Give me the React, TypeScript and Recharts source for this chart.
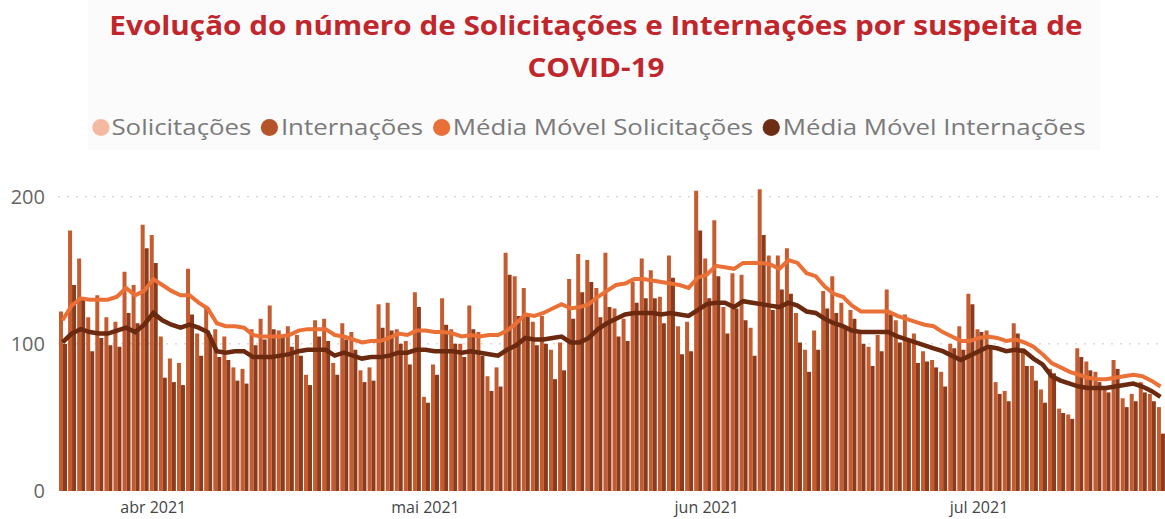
import { ComposedChart, Bar, Line, XAxis, YAxis, CartesianGrid } from 'recharts';

// daily values, 22 mar 2021 .. 21 jul 2021
const solicitacoes = [
  122, 177, 158, 118, 133, 118, 115, 149, 140, 181,
  174, 105, 90, 87, 151, 107, 125, 110, 105, 84,
  83, 110, 117, 126, 109, 112, 106, 79, 116, 117,
  87, 114, 108, 82, 84, 127, 128, 110, 102, 135,
  64, 86, 131, 110, 100, 126, 108, 78, 84, 162,
  146, 138, 115, 119, 96, 101, 144, 161, 157, 138,
  162, 124, 117, 142, 158, 150, 132, 160, 112, 115,
  204, 158, 184, 125, 148, 147, 111, 205, 160, 160,
  165, 121, 96, 109, 136, 146, 128, 123, 107, 98,
  106, 137, 116, 120, 107, 95, 89, 81, 100, 112,
  134, 110, 109, 74, 68, 114, 97, 85, 69, 83,
  56, 52, 97, 88, 81, 70, 89, 63, 66, 74,
  66, 57,
];

const internacoes = [
  100, 140, 130, 95, 104, 99, 98, 121, 114, 165,
  155, 77, 74, 72, 120, 92, 106, 91, 89, 75,
  73, 99, 103, 110, 105, 98, 92, 72, 105, 102,
  79, 103, 96, 74, 75, 111, 109, 100, 86, 125,
  60, 79, 113, 100, 91, 110, 92, 68, 71, 147,
  119, 119, 99, 100, 76, 82, 117, 135, 142, 118,
  125, 105, 102, 128, 131, 131, 114, 145, 93, 95,
  177, 131, 146, 107, 124, 116, 92, 174, 123, 137,
  134, 101, 81, 96, 124, 121, 112, 117, 100, 85,
  95, 120, 101, 102, 87, 88, 84, 71, 97, 96,
  127, 108, 99, 66, 61, 107, 85, 75, 60, 80,
  53, 49, 91, 82, 74, 67, 83, 57, 61, 67,
  61, 39,
];

const mediaSolicitacoes = [
  116, 126, 131, 130, 130, 130, 132, 138, 133, 136,
  144, 140, 136, 133, 133, 128, 124, 114, 112, 112,
  111, 106, 105, 105, 105, 106, 109, 110, 110, 110,
  106, 105, 103, 101, 102, 102, 104, 107, 106, 109,
  109, 108, 108, 107, 105, 106, 105, 106, 106, 109,
  114, 120, 119, 121, 124, 127, 124, 125, 127, 132,
  136, 140, 141, 144, 144, 143, 142, 141, 140, 138,
  145, 147, 153, 152, 151, 155, 155, 155, 154, 151,
  157, 155, 148, 146, 139, 134, 132, 126, 122, 122,
  122, 122, 119, 117, 115, 113, 112, 108, 105, 102,
  102, 104, 105, 104, 102, 103, 101, 98, 93, 87,
  84, 81, 79, 77, 76, 76, 77, 78, 79, 78,
  75, 71,
];

const mediaInternacoes = [
  101, 107, 110, 108, 107, 107, 109, 111, 108, 113,
  121, 116, 113, 111, 113, 111, 108, 95, 94, 95,
  95, 91, 91, 91, 92, 93, 95, 96, 96, 96,
  92, 94, 92, 90, 91, 91, 92, 94, 94, 96,
  96, 95, 95, 95, 94, 95, 94, 93, 92, 96,
  99, 104, 103, 103, 104, 105, 101, 101, 104, 110,
  114, 117, 120, 121, 121, 121, 120, 121, 120, 119,
  123, 127, 128, 128, 125, 129, 128, 127, 126, 125,
  128, 126, 122, 121, 117, 114, 112, 109, 108, 108,
  108, 108, 105, 103, 101, 99, 97, 95, 92, 89,
  92, 95, 98, 97, 95, 96, 95, 90, 86, 78,
  75, 73, 71, 70, 70, 70, 71, 72, 73, 71,
  68, 64,
];

const monthTicks = [
  { date: '2021-04-01', label: 'abr 2021' },
  { date: '2021-05-01', label: 'mai 2021' },
  { date: '2021-06-01', label: 'jun 2021' },
  { date: '2021-07-01', label: 'jul 2021' },
];

const yTicks = [0, 100, 200];
const gridValues = [100, 200];

const legendItems = [
  { name: 'Solicitações', color: '#f4b9a0' },
  { name: 'Internações', color: '#b5542b' },
  { name: 'Média Móvel Solicitações', color: '#e86f37' },
  { name: 'Média Móvel Internações', color: '#6d2c14' },
];

const data = solicitacoes.map((s, i) => ({
  date: new Date(Date.UTC(2021, 2, 22 + i)).toISOString().slice(0, 10),
  sol: s,
  int: internacoes[i],
  mSol: mediaSolicitacoes[i],
  mInt: mediaInternacoes[i],
}));

const tickLabel = (d: string) => monthTicks.find((m) => m.date === d)?.label ?? '';

export default function App() {
  return (
    <div
      style={{
        position: 'absolute',
        left: 0,
        top: 0,
        width: 1165,
        height: 519,
        background: '#fff',
        overflow: 'hidden',
        fontFamily: '"Open Sans", sans-serif',
      }}
    >
      <div style={{ position: 'absolute', left: 88, top: 0, width: 1012, height: 150, background: '#fbfbfb' }} />
      <div style={{ position: 'absolute', left: 0, top: 0 }}>
        <ComposedChart
          width={1165}
          height={519}
          data={data}
          margin={{ top: 182, right: 0, bottom: 0, left: 0 }}
          barGap={0}
          barCategoryGap={1}
        >
          <CartesianGrid
            vertical={false}
            horizontalValues={gridValues}
            stroke="#c8c8c8"
            strokeDasharray="2 7"
          />
          <XAxis
            dataKey="date"
            ticks={monthTicks.map((m) => m.date)}
            interval={0}
            tickFormatter={tickLabel}
            axisLine={false}
            tickLine={false}
            height={28}
            tickMargin={5}
            tick={{ fontSize: 16, fill: '#444' }}
          />
          <YAxis
            domain={[0, 210]}
            ticks={yTicks}
            axisLine={false}
            tickLine={false}
            width={58}
            tickMargin={7}
            tick={{ fontSize: 20, fill: '#666' }}
          />
          <Bar dataKey="sol" name="Solicitações" fill="#c45c30" isAnimationActive={false} />
          <Bar dataKey="int" name="Internações" fill="#8c3c1c" isAnimationActive={false} />
          <Line
            type="linear"
            dataKey="mSol"
            name="Média Móvel Solicitações"
            stroke="#ea7036"
            strokeWidth={4}
            dot={false}
            activeDot={false}
            isAnimationActive={false}
          />
          <Line
            type="linear"
            dataKey="mInt"
            name="Média Móvel Internações"
            stroke="#6b2a10"
            strokeWidth={4.5}
            dot={false}
            activeDot={false}
            isAnimationActive={false}
          />
        </ComposedChart>
      </div>
      <div
        style={{
          position: 'absolute',
          left: 0,
          top: 4,
          width: 1192,
          textAlign: 'center',
          color: '#c0262c',
          fontWeight: 700,
          fontSize: 27,
          lineHeight: '42px',
          transform: 'scaleX(1.1)',
          transformOrigin: '596px 0',
        }}
      >
        Evolução do número de Solicitações e Internações por suspeita de
        <br />
        COVID-19
      </div>
      <div
        style={{
          position: 'absolute',
          left: 0,
          top: 114,
          width: 1177,
          height: 26,
          display: 'flex',
          justifyContent: 'center',
          alignItems: 'center',
          gap: 8,
          fontSize: 21,
          color: '#7a7a7a',
          transform: 'scaleX(1.23)',
          transformOrigin: '588px 0',
        }}
      >
        {legendItems.map((item) => (
          <div key={item.name} style={{ display: 'flex', alignItems: 'center' }}>
            <span
              style={{
                width: 14,
                height: 17,
                borderRadius: '50%',
                background: item.color,
                marginRight: 2,
                display: 'inline-block',
              }}
            />
            {item.name}
          </div>
        ))}
      </div>
    </div>
  );
}
